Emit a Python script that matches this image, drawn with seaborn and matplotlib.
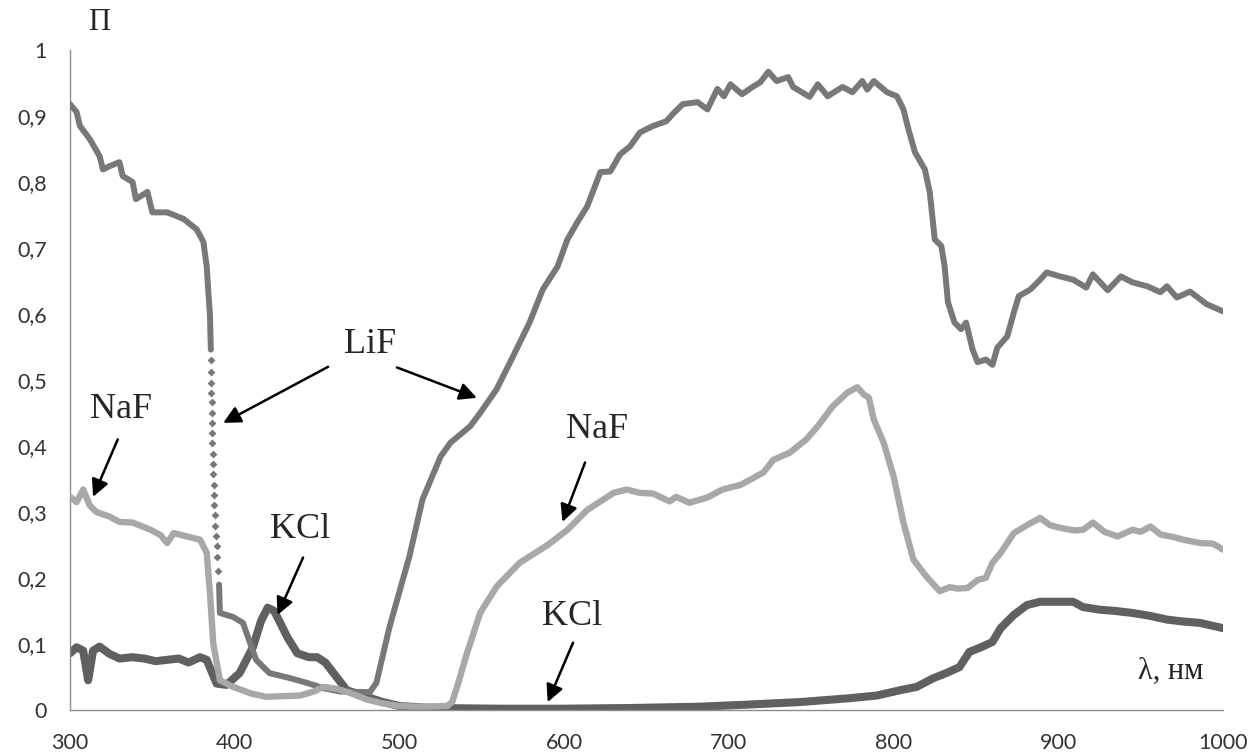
import numpy as np
import pandas as pd
import matplotlib
matplotlib.use("Agg")
import matplotlib.pyplot as plt
import seaborn as sns

# ---------------- data ----------------
lif_uv_x = [300, 304, 306, 312, 318, 320, 324, 330, 332, 338, 340, 347, 350, 359, 369, 377, 381, 383, 384, 385, 385.5]
lif_uv_y = [0.918, 0.906, 0.885, 0.865, 0.839, 0.819, 0.824, 0.830, 0.809, 0.800, 0.774, 0.785, 0.754, 0.754,
            0.744, 0.728, 0.709, 0.672, 0.633, 0.597, 0.546]

lif_drop_x = [385.6, 385.7, 385.8, 385.9, 386.0, 386.1, 386.2, 386.4, 386.5, 386.7, 386.9, 387.1, 387.3,
              387.5, 387.7, 388.0, 388.3, 388.6, 389.0, 389.5, 390.0]
lif_drop_y = [0.530, 0.512, 0.496, 0.481, 0.466, 0.450, 0.435, 0.419, 0.404, 0.388, 0.372, 0.357, 0.341,
              0.326, 0.310, 0.295, 0.279, 0.263, 0.248, 0.232, 0.210]

lif_x = [390.5, 391, 399, 405, 413, 421, 434, 444, 454, 464, 482, 486, 494, 502, 506, 514, 525, 531, 543, 549,
         559, 569, 579, 587, 596, 602, 608, 614, 622, 628, 634, 640, 646, 654, 662, 666, 672, 681, 687, 693,
         697, 701, 708, 715, 719, 724, 729, 736, 739, 749, 754, 760, 769, 775, 781, 784, 788, 796, 802, 806,
         809, 813, 819, 822, 825, 829, 831, 833, 837, 841, 844, 848, 851, 856, 860, 863, 869, 873, 876, 883,
         889, 893, 901, 909, 917, 921, 930, 938, 945, 954, 962, 966, 972, 980, 990, 1000]
lif_y = [0.190, 0.147, 0.141, 0.132, 0.076, 0.056, 0.048, 0.041, 0.033, 0.028, 0.027, 0.041, 0.126, 0.197,
         0.232, 0.319, 0.384, 0.405, 0.430, 0.450, 0.486, 0.536, 0.587, 0.637, 0.672, 0.713, 0.739, 0.763,
         0.815, 0.816, 0.842, 0.854, 0.875, 0.885, 0.892, 0.903, 0.918, 0.921, 0.910, 0.941, 0.930, 0.948,
         0.933, 0.945, 0.951, 0.967, 0.953, 0.959, 0.944, 0.929, 0.948, 0.930, 0.944, 0.936, 0.953, 0.940,
         0.953, 0.936, 0.930, 0.910, 0.880, 0.845, 0.819, 0.784, 0.713, 0.703, 0.672, 0.618, 0.587, 0.577,
         0.587, 0.546, 0.527, 0.531, 0.523, 0.549, 0.566, 0.602, 0.627, 0.637, 0.652, 0.663, 0.657, 0.652,
         0.640, 0.660, 0.636, 0.657, 0.648, 0.642, 0.633, 0.642, 0.625, 0.634, 0.615, 0.604]

naf_x = [300, 304, 308, 312, 316, 324, 330, 338, 349, 355, 359, 363, 371, 379, 383, 385, 387, 391, 399, 410,
         419, 430, 440, 448, 454, 462, 470, 480, 490, 500, 512, 529, 532, 535, 541, 549, 559, 573, 590, 602,
         614, 630, 638, 646, 654, 664, 668, 676, 687, 696, 707, 713, 721, 727, 737, 747, 754, 763, 772, 778,
         782, 785, 788, 794, 800, 806, 812, 820, 828, 834, 839, 845, 851, 856, 860, 865, 873, 881, 889, 895,
         901, 910, 915, 921, 928, 936, 945, 950, 956, 962, 970, 976, 986, 994, 1000]
naf_y = [0.323, 0.315, 0.334, 0.310, 0.300, 0.293, 0.285, 0.284, 0.273, 0.265, 0.253, 0.268, 0.263, 0.258,
         0.238, 0.177, 0.100, 0.045, 0.035, 0.025, 0.020, 0.021, 0.022, 0.028, 0.035, 0.032, 0.026, 0.016,
         0.010, 0.006, 0.005, 0.006, 0.012, 0.035, 0.086, 0.147, 0.187, 0.223, 0.250, 0.273, 0.303, 0.329,
         0.334, 0.329, 0.328, 0.316, 0.323, 0.314, 0.322, 0.334, 0.341, 0.349, 0.360, 0.379, 0.390, 0.410,
         0.430, 0.460, 0.481, 0.489, 0.478, 0.473, 0.440, 0.405, 0.354, 0.284, 0.228, 0.202, 0.180, 0.186,
         0.184, 0.185, 0.197, 0.200, 0.223, 0.238, 0.268, 0.280, 0.291, 0.280, 0.276, 0.272, 0.273, 0.284,
         0.270, 0.263, 0.273, 0.270, 0.278, 0.266, 0.262, 0.258, 0.253, 0.252, 0.243]

kcl_x = [300, 304, 308, 311, 314, 318, 324, 330, 338, 345, 352, 359, 366, 372, 379, 383, 389, 395, 403, 411,
         416, 420, 424, 432, 438, 445, 450, 455, 460, 468, 480, 490, 500, 520, 560, 600, 640, 682, 710, 743,
         774, 790, 804, 814, 824, 832, 840, 846, 853, 860, 865, 873, 881, 889, 899, 909, 915, 925, 935, 945,
         955, 966, 976, 986, 993, 1000]
kcl_y = [0.086, 0.095, 0.090, 0.045, 0.090, 0.096, 0.085, 0.078, 0.080, 0.078, 0.074, 0.076, 0.078, 0.072,
         0.080, 0.076, 0.040, 0.038, 0.056, 0.095, 0.135, 0.155, 0.150, 0.110, 0.086, 0.080, 0.080, 0.072,
         0.056, 0.030, 0.020, 0.012, 0.006, 0.003, 0.002, 0.002, 0.003, 0.005, 0.008, 0.012, 0.018, 0.022,
         0.030, 0.035, 0.048, 0.056, 0.065, 0.088, 0.095, 0.103, 0.124, 0.144, 0.159, 0.164, 0.164, 0.164,
         0.156, 0.152, 0.150, 0.147, 0.143, 0.137, 0.134, 0.132, 0.128, 0.124]

x_ticks = [300, 400, 500, 600, 700, 800, 900, 1000]
y_ticks = [0, 0.1, 0.2, 0.3, 0.4, 0.5, 0.6, 0.7, 0.8, 0.9, 1.0]
y_tick_labels = ["0", "0,1", "0,2", "0,3", "0,4", "0,5", "0,6", "0,7", "0,8", "0,9", "1"]

# ---------------- style ----------------
sns.set_style("white")
plt.rcParams["font.family"] = ["Lato", "DejaVu Sans"]

C_LIF = "#787878"
C_NAF = "#a8a8a8"
C_KCL = "#606060"

fig = plt.figure(figsize=(12.55, 7.55), dpi=100)
ax = fig.add_axes([70 / 1255, 45 / 755, (1223 - 70) / 1255, (710 - 50) / 755])

line_kw = dict(sort=False, estimator=None, solid_joinstyle="round", solid_capstyle="round")
sns.lineplot(x=kcl_x, y=kcl_y, ax=ax, color=C_KCL, lw=5.8, zorder=2, **line_kw)
sns.lineplot(x=lif_uv_x, y=lif_uv_y, ax=ax, color=C_LIF, lw=4.3, zorder=3, **line_kw)
sns.lineplot(x=lif_x, y=lif_y, ax=ax, color=C_LIF, lw=4.3, zorder=3, **line_kw)
sns.scatterplot(x=lif_drop_x, y=lif_drop_y, ax=ax, color=C_LIF, marker="D", s=16, linewidth=0, zorder=3)
sns.lineplot(x=naf_x, y=naf_y, ax=ax, color=C_NAF, lw=4.6, zorder=4, **line_kw)

ax.set_xlim(300, 1000)
ax.set_ylim(0, 1)
ax.set_xticks(x_ticks)
ax.set_yticks(y_ticks)
ax.set_yticklabels(y_tick_labels)
ax.set_xlabel("")
ax.set_ylabel("")

for side in ["top", "right"]:
    ax.spines[side].set_visible(False)
for side in ["left", "bottom"]:
    ax.spines[side].set_color("#8c8c8c")
    ax.spines[side].set_linewidth(1.0)
ax.tick_params(axis="both", which="major", direction="out", length=6.5, width=1.0,
               color="#8c8c8c", labelsize=15.5, labelcolor="#333333")
ax.tick_params(axis="y", pad=10)
ax.tick_params(axis="x", pad=10)

# ---------------- annotations ----------------
serif = ["Liberation Serif", "DejaVu Serif"]
arrow = dict(arrowstyle="-|>", color="black", lw=1.8, mutation_scale=26, shrinkA=0, shrinkB=0)

ax.text(482, 0.554, "LiF", family=serif, fontsize=26, ha="center", va="center")
ax.annotate("", xy=(393, 0.435), xytext=(456.7, 0.52), arrowprops=arrow)
ax.annotate("", xy=(547, 0.473), xytext=(498.5, 0.519), arrowprops=arrow)

ax.text(331, 0.455, "NaF", family=serif, fontsize=26, ha="center", va="center")
ax.annotate("", xy=(314, 0.323), xytext=(329, 0.41), arrowprops=arrow)

ax.text(439.6, 0.273, "KCl", family=serif, fontsize=26, ha="center", va="center")
ax.annotate("", xy=(426, 0.144), xytext=(441.5, 0.231), arrowprops=arrow)

ax.text(620, 0.425, "NaF", family=serif, fontsize=26, ha="center", va="center")
ax.annotate("", xy=(599, 0.285), xytext=(612.7, 0.375), arrowprops=arrow)

ax.text(605, 0.141, "KCl", family=serif, fontsize=26, ha="center", va="center")
ax.annotate("", xy=(590, 0.012), xytext=(605.4, 0.102), arrowprops=arrow)

ax.text(968.5, 0.058, "λ, нм", family=serif, fontsize=22, ha="center", va="center")
ax.text(317.6, 1.041, "П", family=serif, fontsize=22, ha="center", va="center", clip_on=False)

fig.savefig("out.png", dpi=100)
